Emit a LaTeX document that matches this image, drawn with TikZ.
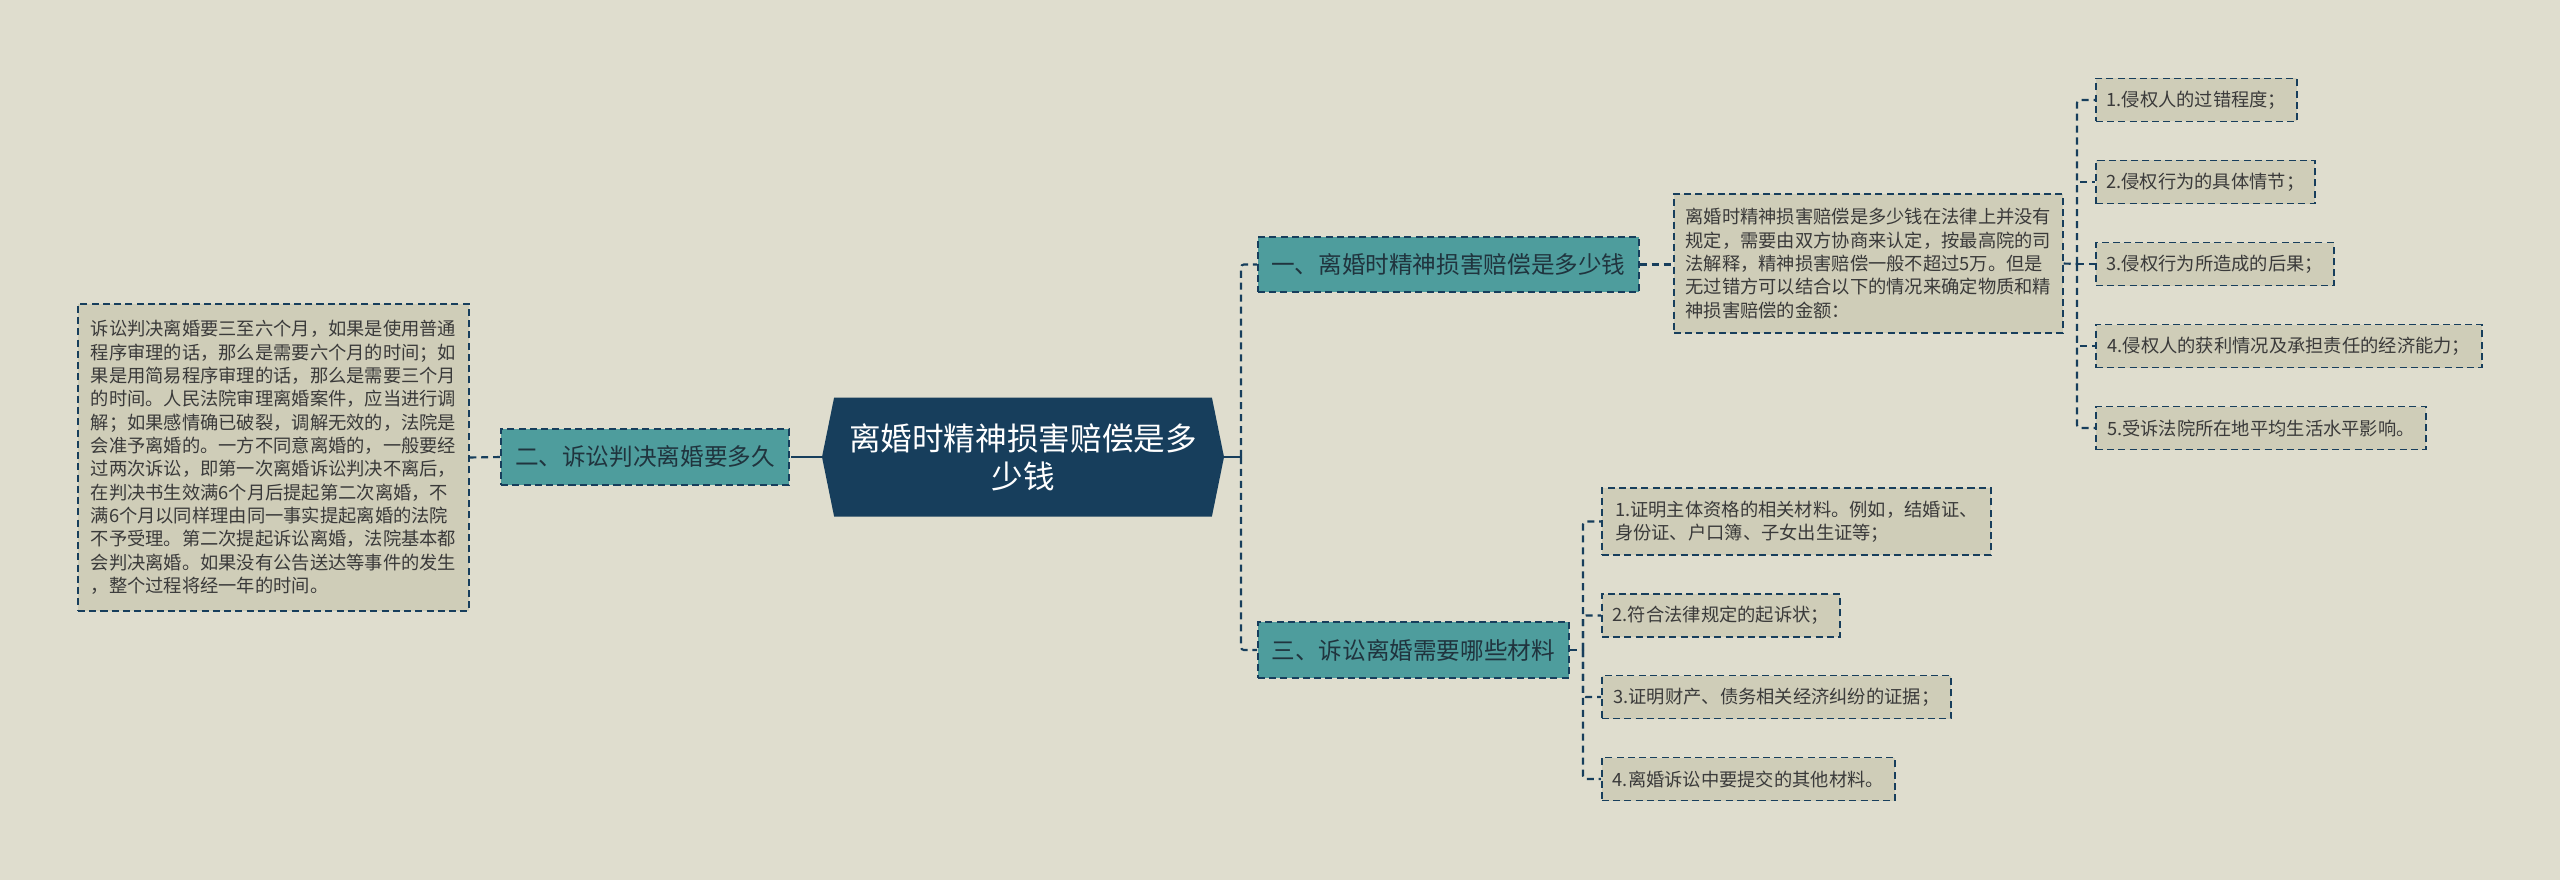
\documentclass[tikz,border=0pt]{standalone}
\usepackage{fontspec}
\setmainfont{Noto Sans CJK SC}
\usepackage{tikz}
\usetikzlibrary{shapes.symbols, positioning, calc}
\definecolor{pagebg}{RGB}{223, 221, 206}
\definecolor{navy}{RGB}{23, 62, 92}
\definecolor{branchteal}{RGB}{78, 157, 157}
\definecolor{leafbg}{RGB}{207, 205, 184}
\definecolor{inktext}{RGB}{58, 58, 58}
\definecolor{branchtext}{RGB}{32, 52, 62}

\begin{document}
\begin{tikzpicture}[
    rootNode/.style={shape=signal, signal to=east and west, signal pointer angle=157, fill=navy, text=white, font=\fontsize{22.5pt}{27pt}\selectfont, align=center, minimum width=10.05cm, minimum height=2.975cm, inner sep=0pt},
    branchBox/.style={draw=navy, fill=branchteal, dash pattern=on 5pt off 3pt, line width=1.2pt, text=branchtext, font=\fontsize{16.8pt}{20pt}\selectfont, minimum height=1.4cm, inner xsep=0.3cm},
    leafBox/.style={draw=navy, fill=leafbg, dash pattern=on 5pt off 3pt, line width=1.2pt, text=inktext, font=\fontsize{13pt}{16.6pt}\selectfont, align=left, minimum height=1.075cm, inner xsep=0.25cm},
    link/.style={draw=navy, line width=1.5pt, dash pattern=on 5pt off 3.5pt, rounded corners=2pt},
    stub/.style={draw=navy, line width=2pt}
]

% Page
\fill[pagebg] (0,0) rectangle (64,-22);
\useasboundingbox (0,0) rectangle (64,-22);

% Central topic
\node[rootNode] (root) at (25.575, -11.425) {离婚时精神损害赔偿是多\\少钱};

% Junction points
\coordinate (lj) at (19.95, -11.425);
\coordinate (rj) at (31.025, -11.425);

% Left branch
\node[branchBox, minimum width=7.2cm] (b2) at (16.125, -11.425) {二、诉讼判决离婚要多久};
\node[leafBox, minimum width=9.775cm, minimum height=7.675cm, inner xsep=0.275cm] (b2txt) at (6.8375, -11.4375) {
    诉讼判决离婚要三至六个月，如果是使用普通\\
    程序审理的话，那么是需要六个月的时间；如\\
    果是用简易程序审理的话，那么是需要三个月\\
    的时间。人民法院审理离婚案件，应当进行调\\
    解；如果感情确已破裂，调解无效的，法院是\\
    会准予离婚的。一方不同意离婚的，一般要经\\
    过两次诉讼，即第一次离婚诉讼判决不离后，\\
    在判决书生效满6个月后提起第二次离婚，不\\
    满6个月以同样理由同一事实提起离婚的法院\\
    不予受理。第二次提起诉讼离婚，法院基本都\\
    会判决离婚。如果没有公告送达等事件的发生\\
    ，整个过程将经一年的时间。};

% Right branch one
\node[branchBox, anchor=west, minimum width=9.525cm, minimum height=1.375cm] (b1) at (31.425, -6.6125) {一、离婚时精神损害赔偿是多少钱};
\node[leafBox, anchor=west, minimum width=9.725cm, minimum height=3.475cm] (b1txt) at (41.825, -6.5875) {
    离婚时精神损害赔偿是多少钱在法律上并没有\\
    规定，需要由双方协商来认定，按最高院的司\\
    法解释，精神损害赔偿一般不超过5万。但是\\
    无过错方可以结合以下的情况来确定物质和精\\
    神损害赔偿的金额：};
\coordinate (dj) at (51.925, -6.6);
\node[leafBox, anchor=west, minimum width=5.025cm] (i1) at (52.375, -2.5) {1.侵权人的过错程度；};
\node[leafBox, anchor=west, minimum width=5.475cm] (i2) at (52.375, -4.55) {2.侵权行为的具体情节；};
\node[leafBox, anchor=west, minimum width=5.95cm] (i3) at (52.375, -6.6) {3.侵权行为所造成的后果；};
\node[leafBox, anchor=west, minimum width=9.65cm] (i4) at (52.375, -8.65) {4.侵权人的获利情况及承担责任的经济能力；};
\node[leafBox, anchor=west, minimum width=8.25cm] (i5) at (52.375, -10.7) {5.受诉法院所在地平均生活水平影响。};

% Right branch three
\node[branchBox, anchor=west, minimum width=7.775cm] (b3) at (31.425, -16.25) {三、诉讼离婚需要哪些材料};
\coordinate (mj) at (39.575, -16.25);
\node[leafBox, anchor=west, minimum width=9.725cm, minimum height=1.675cm] (m1) at (40.025, -13.0375) {
    1.证明主体资格的相关材料。例如，结婚证、\\
    身份证、户口簿、子女出生证等；};
\node[leafBox, anchor=west, minimum width=5.95cm] (m2) at (40.025, -15.3875) {2.符合法律规定的起诉状；};
\node[leafBox, anchor=west, minimum width=8.725cm] (m3) at (40.025, -17.425) {3.证明财产、债务相关经济纠纷的证据；};
\node[leafBox, anchor=west, minimum width=7.325cm] (m4) at (40.025, -19.475) {4.离婚诉讼中要提交的其他材料。};

% Connectors
\draw[stub] (root.west) -- (lj);
\draw[link] (lj) -- (b2.east);
\draw[link] (b2.west) -- (b2txt.east);
\draw[stub] (root.east) -- (rj);
\draw[link] (rj) |- (b1.west);
\draw[link] (rj) |- (b3.west);
\draw[link] (b1.east) -- (b1.east -| b1txt.west);
\draw[link] (b1txt.east) -- (dj);
\draw[link] (dj) |- (i1.west);
\draw[link] (dj) |- (i2.west);
\draw[link] (dj) -- (i3.west);
\draw[link] (dj) |- (i4.west);
\draw[link] (dj) |- (i5.west);
\draw[link] (b3.east) -- (mj);
\draw[link] (mj) |- (m1.west);
\draw[link] (mj) |- (m2.west);
\draw[link] (mj) |- (m3.west);
\draw[link] (mj) |- (m4.west);

\end{tikzpicture}
\end{document}
